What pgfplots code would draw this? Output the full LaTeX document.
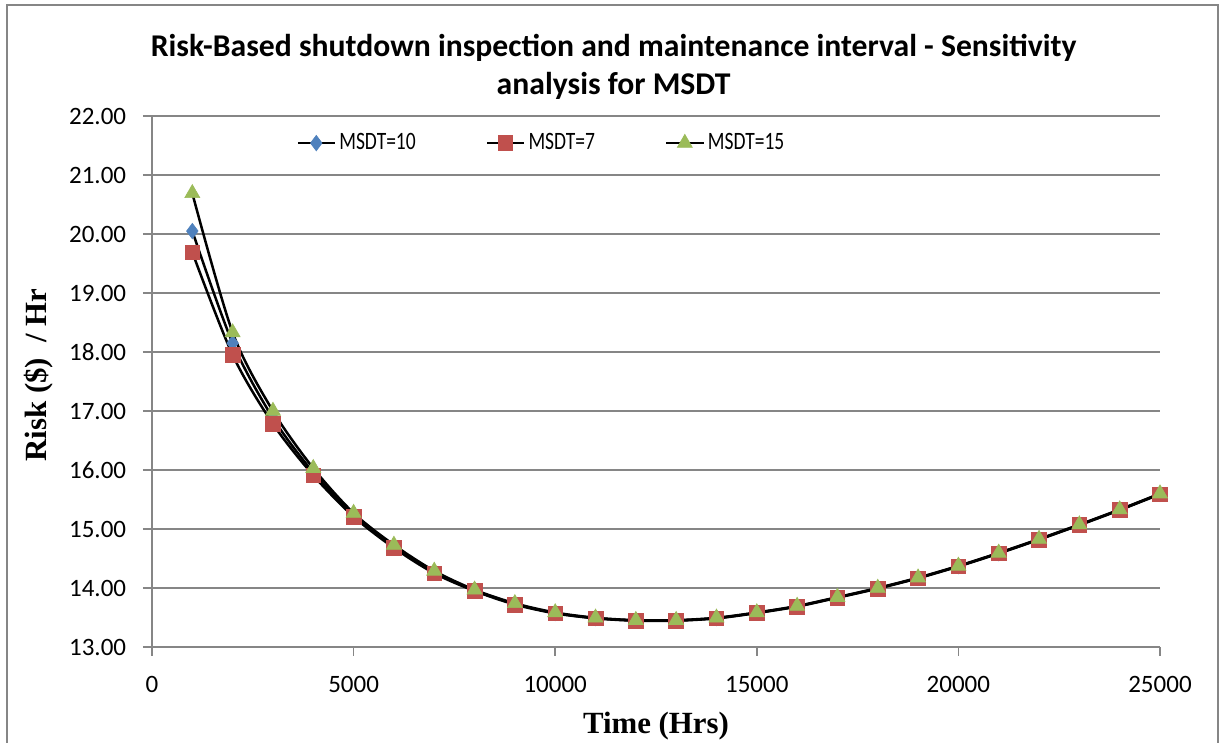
\documentclass[border=0pt]{standalone}
\usepackage{graphicx}
\usepackage{pgfplots}
\pgfplotsset{compat=1.18}
\usepackage{fontspec}
\setmainfont{Carlito}
\newfontfamily\timesfont{Liberation Serif}
\definecolor{sblue}{HTML}{4F81BD}
\definecolor{sred}{HTML}{C0504D}
\definecolor{sgreen}{HTML}{9BBB59}
\definecolor{gridgray}{HTML}{868686}
\newcommand{\legtxt}[1]{\scalebox{0.78}[1]{#1}}
\begin{document}
\begin{tikzpicture}
\useasboundingbox (0,0) rectangle (732pt,445.8pt);
\draw[gridgray, line width=1.2pt] (4.2pt,442.8pt) rectangle (730.6pt,-10pt);
\begin{axis}[
  at={(91.2pt,57.6pt)}, anchor=south west,
  width=604.8pt, height=318.6pt, scale only axis,
  xmin=0, xmax=25000, ymin=13, ymax=22,
  xtick={0,5000,10000,15000,20000,25000},
  ytick={13,14,15,16,17,18,19,20,21,22},
  scaled ticks=false,
  ymajorgrids,
  major grid style={gridgray, line width=1pt},
  axis line style={gridgray, line width=1pt},
  axis x line*=bottom, axis y line*=left,
  x axis line style={-}, y axis line style={-},
  tick style={gridgray, line width=1pt},
  tick align=outside, major tick length=5.4pt,
  xtick pos=bottom, ytick pos=left,
  /pgf/number format/assume math mode=true,
  tick label style={font=\fontsize{15}{17}\selectfont},
  xticklabel style={/pgf/number format/1000 sep={}, yshift=-8.4pt},
  yticklabel style={/pgf/number format/.cd, fixed, fixed zerofill, precision=2, /tikz/xshift=-6.6pt},
  xlabel={\timesfont\bfseries Time (Hrs)},
  ylabel={\timesfont\bfseries Risk (\$)\ \ / Hr},
  xlabel style={font=\fontsize{18.5}{22}\selectfont, at={(axis description cs:0.5,0)}, anchor=center, yshift=-47.4pt},
  ylabel style={font=\fontsize{18.5}{22}\selectfont, at={(axis description cs:0,0.512)}, anchor=center, yshift=67.8pt},
  title={Risk-Based shutdown inspection and maintenance interval - Sensitivity\\analysis for MSDT},
  title style={align=center, font=\fontsize{19}{23}\selectfont\bfseries, at={(axis description cs:0.458,1)}, anchor=center, yshift=23.4pt},
  legend columns=3,
  legend style={at={(0.387,0.949)}, anchor=center, draw=none, fill=none,
    font=\fontsize{15}{17}\selectfont,
    /tikz/every even column/.append style={column sep=40pt}},
  legend image code/.code={\draw[mark repeat=2,mark phase=2,#1] plot coordinates {(0cm,0cm)(0.39cm,0cm)(0.78cm,0cm)};},
  every axis plot/.append style={black, line width=1.5pt, smooth},
]
\addplot[mark=diamond*, mark size=4.6pt, mark options={solid, line width=0.4pt, draw=sblue, fill=sblue}] coordinates {
(1000,20.05)(2000,18.15)(3000,16.88)(4000,15.96)(5000,15.25)(6000,14.70)(7000,14.27)(8000,13.96)(9000,13.73)(10000,13.575)
(11000,13.49)(12000,13.45)(13000,13.45)(14000,13.49)(15000,13.58)(16000,13.69)(17000,13.84)(18000,13.995)(19000,14.17)(20000,14.37)
(21000,14.59)(22000,14.825)(23000,15.07)(24000,15.325)(25000,15.595)};
\addlegendentry{\legtxt{MSDT=10}}
\addplot[mark=square*, mark size=4.4pt, mark options={solid, line width=0.4pt, draw=sred, fill=sred}] coordinates {
(1000,19.69)(2000,17.95)(3000,16.78)(4000,15.91)(5000,15.21)(6000,14.68)(7000,14.25)(8000,13.95)(9000,13.72)(10000,13.57)
(11000,13.485)(12000,13.445)(13000,13.445)(14000,13.485)(15000,13.575)(16000,13.685)(17000,13.835)(18000,13.99)(19000,14.165)(20000,14.365)
(21000,14.585)(22000,14.82)(23000,15.065)(24000,15.32)(25000,15.59)};
\addlegendentry{\legtxt{MSDT=7}}
\addplot[mark=triangle*, mark size=5.2pt, mark options={solid, line width=0.4pt, draw=sgreen, fill=sgreen}] coordinates {
(1000,20.69)(2000,18.33)(3000,17.00)(4000,16.03)(5000,15.27)(6000,14.73)(7000,14.29)(8000,13.97)(9000,13.74)(10000,13.585)
(11000,13.495)(12000,13.455)(13000,13.455)(14000,13.495)(15000,13.585)(16000,13.695)(17000,13.845)(18000,14.0)(19000,14.175)(20000,14.375)
(21000,14.595)(22000,14.83)(23000,15.075)(24000,15.33)(25000,15.6)};
\addlegendentry{\legtxt{MSDT=15}}
\end{axis}
\end{tikzpicture}
\end{document}
